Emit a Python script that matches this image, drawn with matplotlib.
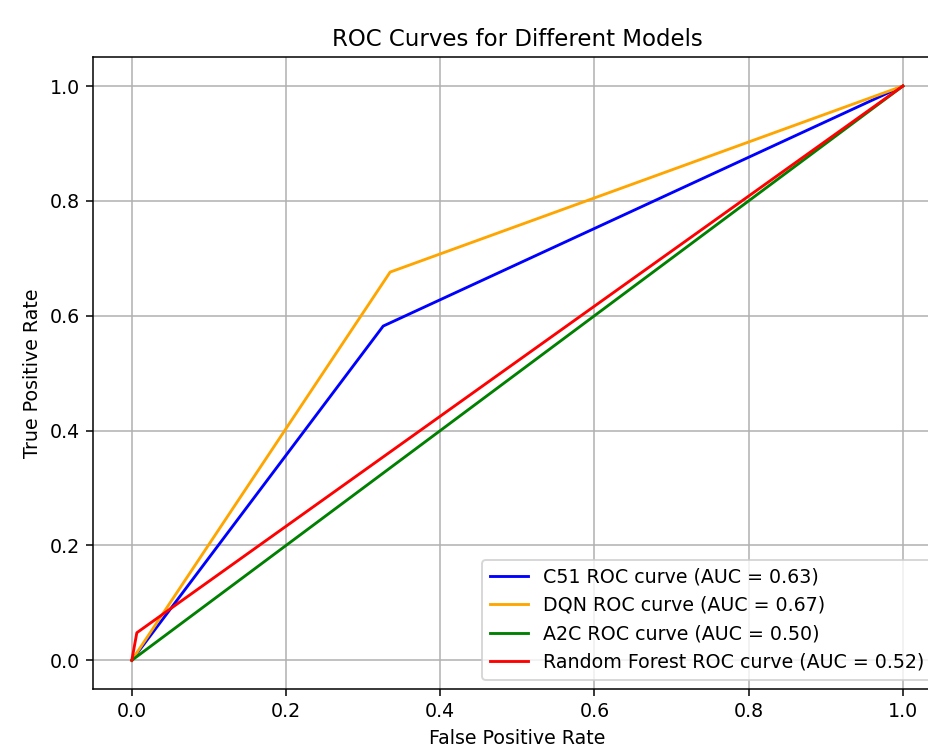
import matplotlib
matplotlib.use("Agg")
import matplotlib.pyplot as plt

# ROC points
c51_fpr = [0.0, 0.326, 1.0]
c51_tpr = [0.0, 0.582, 1.0]
dqn_fpr = [0.0, 0.335, 1.0]
dqn_tpr = [0.0, 0.676, 1.0]
a2c_fpr = [0.0, 1.0]
a2c_tpr = [0.0, 1.0]
rf_fpr = [0.0, 0.0065, 1.0]
rf_tpr = [0.0, 0.048, 1.0]

models = ["C51", "DQN", "A2C", "Random Forest"]
aucs = [0.63, 0.67, 0.50, 0.52]
colors = ["blue", "orange", "green", "red"]

dpi = 137
fig = plt.figure(figsize=(928 / dpi, 750 / dpi), dpi=dpi)
# axes runs past the right edge, as in the cropped reference
ax = fig.add_axes([0.1005, 0.0813, 0.914, 0.8423])

curves = [(c51_fpr, c51_tpr), (dqn_fpr, dqn_tpr), (a2c_fpr, a2c_tpr), (rf_fpr, rf_tpr)]
for (fpr, tpr), name, auc, col in zip(curves, models, aucs, colors):
    ax.plot(fpr, tpr, color=col, label=f"{name} ROC curve (AUC = {auc:.2f})")

ax.set_xlabel("False Positive Rate")
ax.set_ylabel("True Positive Rate")
ax.set_title("ROC Curves for Different Models")
ax.legend(loc="lower right")
ax.grid(True)

fig.savefig("out.png", dpi=dpi)
